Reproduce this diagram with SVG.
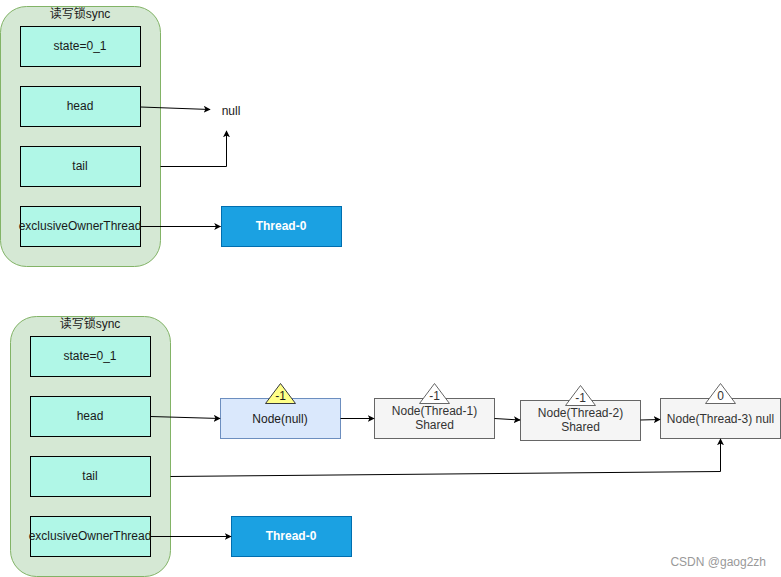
<svg xmlns="http://www.w3.org/2000/svg" width="781" height="577" viewBox="0 0 781 577">
<defs>
<style>
.cont{fill:#d5e8d4;stroke:#82b366;stroke-width:1}
.fld{fill:#b0f7e7;stroke:#000;stroke-width:1}
.thr{fill:#1ba1e2;stroke:#006eaf;stroke-width:1}
.nnull{fill:#dae8fc;stroke:#6c8ebf;stroke-width:1}
.ngray{fill:#f5f5f5;stroke:#666;stroke-width:1}
.tri-y{fill:#ffff88;stroke:#36393d;stroke-width:1}
.tri-w{fill:#fff;stroke:#666;stroke-width:1}
text{font-family:"Liberation Sans",Arial,"Noto Sans CJK SC",sans-serif;font-size:12px;fill:#1a1a1a;text-anchor:middle}
.gray{fill:#333}
.wt{fill:#fff;font-weight:bold}
.edge{fill:none;stroke:#000;stroke-width:1}
.wm{fill:#999;font-size:12px;text-anchor:end}
</style>
<marker id="arr" viewBox="0 0 10 10" refX="9" refY="5" markerWidth="7" markerHeight="7" orient="auto" markerUnits="userSpaceOnUse">
<path d="M0,0 L10,5 L0,10 L2.5,5 Z" fill="#000"/>
</marker>
</defs>

<g id="sync1">
<rect class="cont" x="0.5" y="6.5" width="160" height="260" rx="26"/>
<text x="80" y="18">读写锁sync</text>
</g>
<g id="state1"><rect class="fld" x="20.5" y="26.5" width="120" height="40"/><text x="80" y="50">state=0_1</text></g>
<g id="head1"><rect class="fld" x="20.5" y="86.5" width="120" height="40"/><text x="80" y="110">head</text></g>
<g id="tail1"><rect class="fld" x="20.5" y="146.5" width="120" height="40"/><text x="80" y="170">tail</text></g>
<g id="excl1"><rect class="fld" x="20.5" y="206.5" width="120" height="40"/><text x="80" y="230">exclusiveOwnerThread</text></g>
<g id="null1"><text x="231" y="115">null</text></g>
<g id="thread0a"><rect class="thr" x="221.5" y="206.5" width="120" height="40"/><text class="wt" x="281" y="230">Thread-0</text></g>

<g id="sync2">
<rect class="cont" x="10.5" y="316.5" width="160" height="260" rx="26"/>
<text x="90" y="328">读写锁sync</text>
</g>
<g id="state2"><rect class="fld" x="30.5" y="336.5" width="120" height="40"/><text x="90" y="360">state=0_1</text></g>
<g id="head2"><rect class="fld" x="30.5" y="396.5" width="120" height="40"/><text x="90" y="420">head</text></g>
<g id="tail2"><rect class="fld" x="30.5" y="456.5" width="120" height="40"/><text x="90" y="480">tail</text></g>
<g id="excl2"><rect class="fld" x="30.5" y="516.5" width="120" height="40"/><text x="90" y="540">exclusiveOwnerThread</text></g>
<g id="thread0b"><rect class="thr" x="231.5" y="516.5" width="120" height="40"/><text class="wt" x="291" y="540">Thread-0</text></g>

<g id="nodeNull">
<rect class="nnull" x="220.5" y="398.5" width="120" height="40"/>
<text x="280" y="423">Node(null)</text>
<polygon class="tri-y" points="280.5,383.5 295.5,403.5 265.5,403.5"/>
<text x="280.5" y="400">-1</text>
</g>
<g id="nodeT1">
<rect class="ngray" x="374.5" y="398.5" width="120" height="40"/>
<text class="gray" x="434.5" y="415">Node(Thread-1)</text>
<text class="gray" x="434.5" y="429">Shared</text>
<polygon class="tri-w" points="434.5,383.5 449.5,403.5 419.5,403.5"/>
<text class="gray" x="434.5" y="400">-1</text>
</g>
<g id="nodeT2">
<rect class="ngray" x="520.5" y="400.5" width="120" height="40"/>
<text class="gray" x="580.5" y="417">Node(Thread-2)</text>
<text class="gray" x="580.5" y="431">Shared</text>
<polygon class="tri-w" points="580.5,385.5 595.5,405.5 565.5,405.5"/>
<text class="gray" x="580.5" y="402">-1</text>
</g>
<g id="nodeT3">
<rect class="ngray" x="660.5" y="398.5" width="120" height="40"/>
<text class="gray" x="720.5" y="423">Node(Thread-3) null</text>
<polygon class="tri-w" points="720.5,383.5 735.5,403.5 705.5,403.5"/>
<text class="gray" x="720.5" y="400">0</text>
</g>

<g id="watermark"><text class="wm" x="766" y="566">CSDN @gaog2zh</text></g>

<g id="connectors">
<path class="edge" d="M140.5,107 L210,109.5" marker-end="url(#arr)"/>
<path class="edge" d="M160.5,166.5 L226.5,166.5 L226.5,131" marker-end="url(#arr)"/>
<path class="edge" d="M140.5,226.5 L220.5,226.5" marker-end="url(#arr)"/>
<path class="edge" d="M150.5,416.5 L220,418.5" marker-end="url(#arr)"/>
<path class="edge" d="M340.5,418.5 L374,418.5" marker-end="url(#arr)"/>
<path class="edge" d="M494.5,418.5 L520,420" marker-end="url(#arr)"/>
<path class="edge" d="M640.5,420 L660,419.5" marker-end="url(#arr)"/>
<path class="edge" d="M170.5,476.5 L720.5,471.5 L720.5,439" marker-end="url(#arr)"/>
<path class="edge" d="M150.5,536.5 L231,536.5" marker-end="url(#arr)"/>
</g>
</svg>
